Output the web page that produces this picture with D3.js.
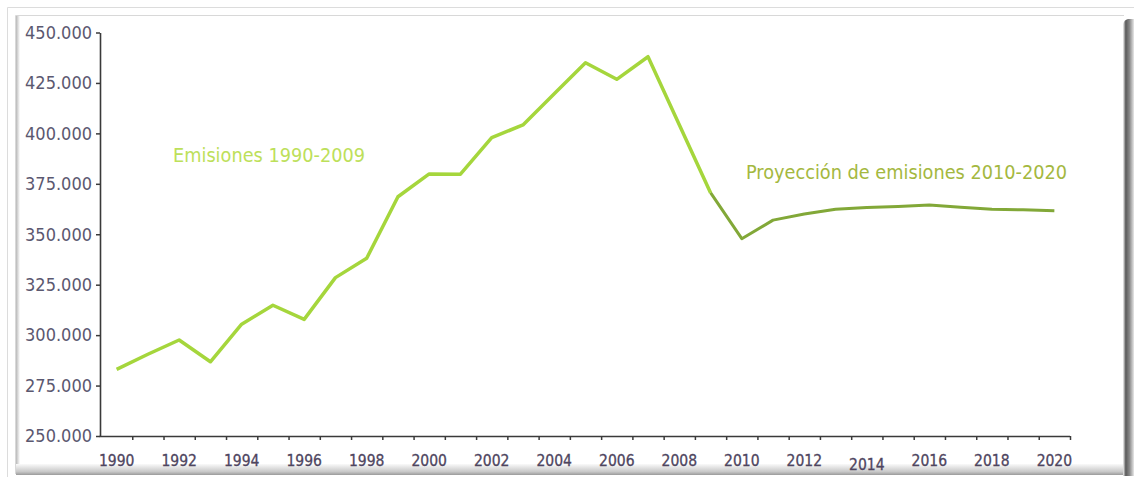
<!DOCTYPE html>
<html>
<head>
<meta charset="utf-8">
<script src="https://cdn.jsdelivr.net/npm/d3@7"></script>
<style>
  body { margin: 0; background: #fff; }
  svg { display: block; }
  .axis text { font-family: "DejaVu Sans Condensed", "DejaVu Sans", sans-serif; }
</style>
</head>
<body>
<div id="chart"></div>
<script>

// data (kt CO2-eq)
var years = d3.range(1990, 2021);
var emisionYears = [1990, 1991, 1992, 1993, 1994, 1995, 1996, 1997, 1998, 1999,
                    2000, 2001, 2002, 2003, 2004, 2005, 2006, 2007, 2008, 2009];
var emisionValues = [283000, 290500, 297600, 286800, 305400, 314800, 307800, 328500, 338100, 368600,
                     379900, 379800, 397900, 404200, 419600, 435000, 426800, 438000, 404300, 370600];
var proyYears = [2009, 2010, 2011, 2012, 2013, 2014, 2015, 2016, 2017, 2018, 2019, 2020];
var proyValues = [370600, 347800, 357000, 360000, 362400, 363200, 363800, 364500, 363400, 362400, 362100, 361700];
var yTicks = [250000, 275000, 300000, 325000, 350000, 375000, 400000, 425000, 450000];
var labelYears = [1990, 1992, 1994, 1996, 1998, 2000, 2002, 2004, 2006, 2008, 2010, 2012, 2014, 2016, 2018, 2020];

var W = 1134, H = 477;
var margin = {top: 32.5, right: 63, bottom: 41, left: 100},
    width = W - margin.left - margin.right,
    height = H - margin.top - margin.bottom;

var svg = d3.select("#chart").append("svg")
    .attr("width", W)
    .attr("height", H);

// frame with shadows
var defs = svg.append("defs");
var gr = defs.append("linearGradient").attr("id", "shR").attr("x1", 0).attr("x2", 1).attr("y1", 0).attr("y2", 0);
gr.append("stop").attr("offset", "0").attr("stop-color", "#f4f4f4");
gr.append("stop").attr("offset", "0.25").attr("stop-color", "#5a5a5a");
gr.append("stop").attr("offset", "0.6").attr("stop-color", "#8a8a8a");
gr.append("stop").attr("offset", "1").attr("stop-color", "#e8e8e8");
var gb = defs.append("linearGradient").attr("id", "shB").attr("x1", 0).attr("x2", 0).attr("y1", 0).attr("y2", 1);
gb.append("stop").attr("offset", "0").attr("stop-color", "#fafafa");
gb.append("stop").attr("offset", "0.7").attr("stop-color", "#c8c8c8");
gb.append("stop").attr("offset", "1").attr("stop-color", "#9a9a9a");
var gl = defs.append("linearGradient").attr("id", "shL").attr("x1", 0).attr("x2", 1).attr("y1", 0).attr("y2", 0);
gl.append("stop").attr("offset", "0").attr("stop-color", "#b8b8b8");
gl.append("stop").attr("offset", "1").attr("stop-color", "#ffffff");

svg.append("path")
    .attr("d", "M7.5,477 V7.5 H1134")
    .attr("fill", "none").attr("stroke", "#dcdcdc");
svg.append("path")
    .attr("d", "M15.5,474 V15.5 H1124")
    .attr("fill", "none").attr("stroke", "#d8d8d8");
svg.append("rect").attr("x", 16).attr("y", 16).attr("width", 4).attr("height", 452).attr("fill", "url(#shL)");
svg.append("path")
    .attr("d", "M16,464 L1124,464 L1124,475 L16,475 Z")
    .attr("fill", "url(#shB)");
svg.append("path")
    .attr("d", "M1123,24 Q1124,20 1128,19 L1134,19 L1134,476 L1123,476 Z")
    .attr("fill", "url(#shR)");

var chart = svg.append("g")
    .attr("transform", "translate(" + margin.left + "," + margin.top + ")");

var x = d3.scaleLinear()
    .domain([1989.5, 2020.5])
    .range([1, width - 1]);

var y = d3.scaleLinear()
    .domain([250000, 450000])
    .range([height, 0]);

var locale = d3.formatLocale({decimal: ",", thousands: ".", grouping: [3], currency: ["", ""]});
var fmt = locale.format(",");

// y axis
var yAxis = chart.append("g")
    .attr("class", "axis")
    .call(d3.axisLeft(y).tickValues(yTicks).tickFormat(fmt).tickSize(4).tickSizeOuter(0).tickPadding(4));
yAxis.select(".domain").attr("stroke", "#3a3a3a").attr("stroke-width", 1.6);
yAxis.selectAll(".tick line").attr("stroke", "#3a3a3a").attr("stroke-width", 1.5);
yAxis.selectAll("text").attr("font-size", 18).attr("fill", "#5b5870");

// x axis: ticks between the categories
var xAxis = chart.append("g")
    .attr("class", "axis")
    .attr("transform", "translate(0," + height + ")")
    .call(d3.axisBottom(x).tickValues(d3.range(1990.5, 2021, 1)).tickFormat("").tickSize(4).tickSizeOuter(0));
xAxis.select(".domain").attr("stroke", "#3a3a3a").attr("stroke-width", 1.6).attr("d", "M-0.5,0.5H" + (width - 1));
xAxis.selectAll(".tick line").attr("stroke", "#3a3a3a").attr("stroke-width", 1.5);

chart.append("g")
    .attr("class", "axis")
    .selectAll("text")
    .data(labelYears)
    .enter().append("text")
    .attr("x", function(d) { return x(d); })
    .attr("y", function(d) { return height + (d === 2014 ? 34 : 30); })
    .attr("text-anchor", "middle")
    .attr("font-size", 15.5)
    .attr("fill", "#4e4560")
    .attr("stroke", "#4e4560")
    .attr("stroke-width", 0.3)
    .text(function(d) { return d; });

// lines
var line = d3.line()
    .x(function(d) { return x(d[0]); })
    .y(function(d) { return y(d[1]); });

chart.append("path")
    .datum(proyYears.map(function(yr, i) { return [yr, proyValues[i]]; }))
    .attr("fill", "none")
    .attr("stroke", "#82a838")
    .attr("stroke-width", 3)
    .attr("stroke-linejoin", "round")
    .attr("d", line);

chart.append("path")
    .datum(emisionYears.map(function(yr, i) { return [yr, emisionValues[i]]; }))
    .attr("fill", "none")
    .attr("stroke", "#a5d63c")
    .attr("stroke-width", 3.5)
    .attr("stroke-linejoin", "round")
    .attr("d", line);

// annotations
svg.append("text")
    .attr("x", 173)
    .attr("y", 162)
    .attr("font-family", "'DejaVu Sans Condensed', 'DejaVu Sans', sans-serif")
    .attr("font-size", 19)
    .attr("fill", "#bde05a")
    .attr("textLength", 192)
    .attr("lengthAdjust", "spacingAndGlyphs")
    .text("Emisiones 1990-2009");

svg.append("text")
    .attr("x", 746)
    .attr("y", 179)
    .attr("font-family", "'DejaVu Sans Condensed', 'DejaVu Sans', sans-serif")
    .attr("font-size", 19)
    .attr("fill", "#a4b840")
    .attr("textLength", 321)
    .attr("lengthAdjust", "spacingAndGlyphs")
    .text("Proyección de emisiones 2010-2020");

</script>
</body>
</html>
